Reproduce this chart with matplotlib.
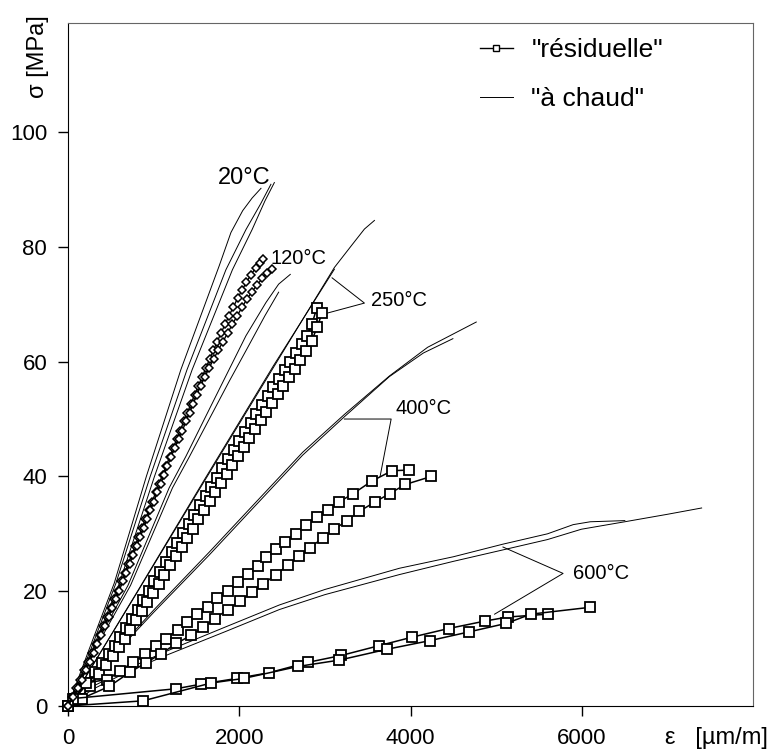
import matplotlib
matplotlib.use("Agg")
import matplotlib.pyplot as plt
from matplotlib.lines import Line2D

plt.rcParams['font.family'] = ['Liberation Sans', 'DejaVu Sans']

# ---- "à chaud" curves (plain lines) ----
hot20a_x = [0, 250, 540, 915, 1318, 1766, 1903, 2040, 2150, 2254]
hot20a_y = [0, 10.0, 21.4, 40.0, 58.6, 76.7, 82.5, 86.3, 88.5, 90.2]
hot20b_x = [0, 270, 560, 960, 1390, 1844, 2078, 2250, 2370]
hot20b_y = [0, 10.0, 21.4, 40.0, 58.6, 76.0, 83.0, 87.5, 90.9]
hot20c_x = [0, 290, 600, 1010, 1450, 1920, 2150, 2300, 2410]
hot20c_y = [0, 10.0, 21.4, 40.0, 58.6, 76.0, 83.0, 88.0, 91.2]

hot120a_x = [0, 300, 700, 1181, 1377, 1610, 1844, 2078, 2312, 2460, 2596]
hot120a_y = [0, 10.0, 21.0, 38.0, 43.5, 50.5, 57.5, 64.5, 70.3, 73.5, 75.2]
hot120b_x = [0, 320, 730, 1220, 1420, 1650, 1880, 2100, 2300, 2460]
hot120b_y = [0, 10.0, 21.0, 38.0, 43.5, 50.0, 56.5, 62.5, 68.0, 72.1]

hot250a_x = [0, 800, 1610, 2400, 3111, 3325, 3462, 3579]
hot250a_y = [0, 19.6, 39.6, 59.0, 76.4, 80.5, 83.1, 84.6]
hot250b_x = [0, 800, 1600, 2400, 3111]
hot250b_y = [0, 19.7, 39.6, 59.3, 76.1]

hot400a_x = [0, 480, 1006, 1649, 2150, 2740, 3228, 3754, 4200, 4768]
hot400a_y = [0, 8.3, 16.8, 26.8, 34.8, 44.2, 50.8, 57.5, 62.5, 66.9]
hot400b_x = [0, 480, 1006, 1649, 2150, 2740, 3228, 3754, 4150, 4495]
hot400b_y = [0, 8.0, 16.4, 26.3, 34.3, 43.7, 50.4, 57.4, 61.5, 64.0]

hot600a_x = [0, 300, 700, 1142, 1844, 2468, 3000, 3871, 4500, 5080, 5600, 5900, 6100, 6503]
hot600a_y = [0, 3.5, 6.5, 9.5, 13.8, 17.6, 20.3, 24.0, 26.0, 28.2, 30.0, 31.6, 32.1, 32.3]
hot600b_x = [0, 300, 700, 1142, 1844, 2468, 3000, 3871, 4500, 5080, 5600, 5996, 6503, 7000, 7400]
hot600b_y = [0, 3.0, 6.0, 8.8, 13.0, 16.8, 19.4, 22.9, 25.2, 27.2, 29.0, 30.8, 32.1, 33.4, 34.5]

# ---- "résiduelle" curves (markers) ----
res120a_x = [0, 45, 95, 140, 190, 235, 280, 325, 370, 412, 455, 497, 540, 580, 622, 662, 703,
             743, 784, 823, 864, 903, 944, 983, 1024, 1063, 1105, 1145, 1187, 1227, 1270, 1310,
             1353, 1394, 1437, 1478, 1523, 1565, 1610, 1653, 1699, 1743, 1788, 1834, 1881, 1930,
             1980, 2030, 2082, 2135, 2190, 2237, 2281]
res120a_y = [0, 1.5, 3.1, 4.6, 6.2, 7.7, 9.3, 10.8, 12.4, 13.9, 15.5, 17.0, 18.6, 20.1, 21.7, 23.2,
             24.8, 26.3, 27.9, 29.4, 31.0, 32.5, 34.1, 35.6, 37.2, 38.7, 40.3, 41.8, 43.4, 44.9,
             46.5, 48.0, 49.6, 51.1, 52.7, 54.2, 55.8, 57.3, 58.9, 60.4, 62.0, 63.5, 65.0, 66.5,
             68.0, 69.5, 71.0, 72.4, 73.8, 75.1, 76.3, 77.2, 77.9]
res120b_x = [0, 60, 112, 158, 207, 252, 298, 343, 388, 430, 473, 515, 558, 598, 640, 680, 721,
             761, 802, 842, 883, 922, 963, 1002, 1043, 1082, 1123, 1162, 1203, 1245, 1292, 1335,
             1380, 1420, 1463, 1505, 1550, 1598, 1648, 1700, 1755, 1810, 1865, 1920, 1976, 2033,
             2090, 2150, 2210, 2270, 2325, 2382]
res120b_y = [0, 1.5, 3.1, 4.6, 6.2, 7.7, 9.3, 10.8, 12.4, 13.9, 15.5, 17.0, 18.6, 20.1, 21.7, 23.2,
             24.8, 26.3, 27.9, 29.4, 31.0, 32.5, 34.1, 35.6, 37.2, 38.7, 40.3, 41.8, 43.4, 44.9,
             46.5, 48.0, 49.6, 51.1, 52.7, 54.2, 55.8, 57.3, 58.9, 60.4, 62.0, 63.5, 65.0, 66.5,
             68.0, 69.5, 70.9, 72.2, 73.4, 74.5, 75.4, 76.2]

res250a_x = [0, 80, 210, 320, 400, 475, 545, 612, 680, 745, 812, 878, 945, 1010, 1077, 1143, 1210,
             1276, 1342, 1408, 1474, 1540, 1606, 1672, 1738, 1804, 1870, 1936, 2002, 2068, 2134,
             2200, 2266, 2332, 2398, 2464, 2530, 2596, 2662, 2728, 2790, 2848, 2905]
res250a_y = [0, 1.3, 4.0, 6.0, 7.5, 9.0, 10.5, 12.0, 13.6, 15.2, 16.8, 18.5, 20.1, 21.8, 23.4,
             25.1, 26.8, 28.4, 30.1, 31.7, 33.3, 35.0, 36.6, 38.2, 39.8, 41.4, 43.0, 44.6, 46.2,
             47.8, 49.3, 50.9, 52.4, 54.0, 55.5, 57.0, 58.5, 60.0, 61.5, 63.0, 64.5, 66.5, 69.3]
res250b_x = [0, 140, 255, 360, 445, 520, 592, 660, 727, 793, 860, 927, 993, 1060, 1127, 1193, 1260,
             1326, 1392, 1458, 1524, 1590, 1656, 1722, 1788, 1854, 1920, 1986, 2052, 2118, 2184,
             2250, 2316, 2382, 2448, 2514, 2580, 2646, 2712, 2778, 2845, 2910, 2965]
res250b_y = [0, 1.2, 3.5, 5.5, 7.2, 8.7, 10.2, 11.7, 13.3, 14.9, 16.5, 18.1, 19.7, 21.3, 22.9,
             24.5, 26.1, 27.7, 29.3, 30.9, 32.5, 34.1, 35.7, 37.3, 38.9, 40.5, 42.0, 43.6, 45.2,
             46.7, 48.3, 49.8, 51.3, 52.8, 54.3, 55.8, 57.3, 58.8, 60.3, 61.8, 63.6, 66.0, 68.4]

res400a_x = [0, 207, 450, 610, 760, 900, 1025, 1140, 1280, 1395, 1510, 1630, 1745, 1865, 1980,
             2100, 2215, 2310, 2430, 2540, 2660, 2780, 2910, 3040, 3170, 3330, 3550, 3785, 3980]
res400a_y = [0, 4.0, 4.6, 6.1, 7.7, 9.0, 10.4, 11.7, 13.3, 14.6, 16.0, 17.3, 18.8, 20.1, 21.6,
             23.0, 24.4, 25.9, 27.3, 28.5, 30.0, 31.5, 32.9, 34.2, 35.6, 37.0, 39.2, 41.0, 41.1]
res400b_x = [0, 160, 480, 725, 908, 1085, 1267, 1435, 1580, 1712, 1865, 2010, 2145, 2280, 2430,
             2565, 2695, 2830, 2975, 3110, 3260, 3400, 3580, 3755, 3940, 4245]
res400b_y = [0, 1.3, 3.4, 5.9, 7.5, 9.1, 10.9, 12.3, 13.7, 15.2, 16.8, 18.3, 19.8, 21.3, 22.9,
             24.5, 26.1, 27.6, 29.3, 30.8, 32.3, 33.9, 35.5, 37.0, 38.6, 40.0]

res600a_x = [0, 60, 1260, 1550, 1970, 2350, 2800, 3190, 3630, 4020, 4445, 4870, 5135, 5600]
res600a_y = [0, 1.3, 3.0, 3.8, 4.8, 5.8, 7.6, 8.8, 10.5, 12.0, 13.5, 14.8, 15.5, 16.0]
res600b_x = [0, 877, 1670, 2050, 2690, 3170, 3730, 4230, 4680, 5120, 5405, 6100]
res600b_y = [0, 0.9, 4.0, 4.8, 6.9, 8.0, 9.9, 11.4, 12.9, 14.4, 16.0, 17.2]

# ---- temperature labels and leader lines (data coords) ----
lbl_20 = (2058, 92.0)
lbl_120 = (2370, 77.9)
lbl_250 = (3540, 70.6)
lbl_400 = (3820, 51.8)
lbl_600 = (5898, 23.1)
lead_250_x = [3084, 3462, 3014]
lead_250_y = [74.6, 70.2, 68.4]
lead_400_x = [3228, 3774, 3645]
lead_400_y = [50.0, 50.0, 40.0]
lead_600_x = [5080, 5782, 4982]
lead_600_y = [27.7, 23.1, 16.0]


W, H = 771, 749
fig = plt.figure(figsize=(W / 100, H / 100), dpi=100)
ax = fig.add_axes([68 / W, 1 - 706 / H, (753 - 68) / W, (706 - 23) / H])

hot = [(hot20a_x, hot20a_y), (hot20b_x, hot20b_y), (hot20c_x, hot20c_y),
       (hot120a_x, hot120a_y), (hot120b_x, hot120b_y),
       (hot250a_x, hot250a_y), (hot250b_x, hot250b_y),
       (hot400a_x, hot400a_y), (hot400b_x, hot400b_y),
       (hot600a_x, hot600a_y), (hot600b_x, hot600b_y)]
for xs, ys in hot:
    ax.plot(xs, ys, color="black", lw=0.7)

sq = dict(color="black", lw=1.1, marker="s", ms=7, mfc="white", mec="black", mew=1.3,
          clip_on=False, zorder=3)
for xs, ys in [(res250a_x, res250a_y), (res250b_x, res250b_y),
               (res400a_x, res400a_y), (res400b_x, res400b_y),
               (res600a_x, res600a_y), (res600b_x, res600b_y)]:
    ax.plot(xs, ys, **sq)

sm = dict(color="black", lw=1.0, marker="D", ms=4, mfc="white", mec="black", mew=1.1,
          clip_on=False, zorder=4)
ax.plot(res120a_x, res120a_y, **sm)
ax.plot(res120b_x, res120b_y, **sm)

# leader lines
for lx, ly in [(lead_250_x, lead_250_y), (lead_400_x, lead_400_y), (lead_600_x, lead_600_y)]:
    ax.plot(lx, ly, color="black", lw=0.7)

ax.text(*lbl_20, "20°C", fontsize=17, ha="center", va="center")
for pos, s in [(lbl_120, "120°C"), (lbl_250, "250°C"), (lbl_400, "400°C"), (lbl_600, "600°C")]:
    ax.text(pos[0], pos[1], s, fontsize=14.5, ha="left", va="center")

ax.set_xlim(0, 8000)
ax.set_ylim(0, 119)
ax.set_xticks([0, 2000, 4000, 6000])
ax.set_yticks([0, 20, 40, 60, 80, 100])
ax.tick_params(direction="out", length=7, width=1, labelsize=16)
ax.tick_params(axis="x", pad=9)
ax.tick_params(axis="y", pad=8)
for side in ["top", "right"]:
    ax.spines[side].set_color("#666666")
for side in ["left", "bottom"]:
    ax.spines[side].set_color("black")

fig.text(38 / W, 1 - 57 / H, "σ [MPa]", rotation=90, fontsize=17, ha="center", va="center")
fig.text(768 / W, 1 - 738 / H, "ε   [µm/m]", fontsize=17, ha="right", va="center")

handles = [Line2D([], [], color="black", lw=1.0, marker="s", ms=5, mfc="white", mec="black"),
           Line2D([], [], color="black", lw=0.7)]
ax.legend(handles, ['"résiduelle"', '"à chaud"'], loc="upper left",
          bbox_to_anchor=(480 / W, 1 - 38 / H), bbox_transform=fig.transFigure,
          frameon=False, fontsize=19, handlelength=1.25, handletextpad=0.7,
          labelspacing=0.95, borderpad=0, borderaxespad=0)

fig.savefig("out.png", dpi=100)
